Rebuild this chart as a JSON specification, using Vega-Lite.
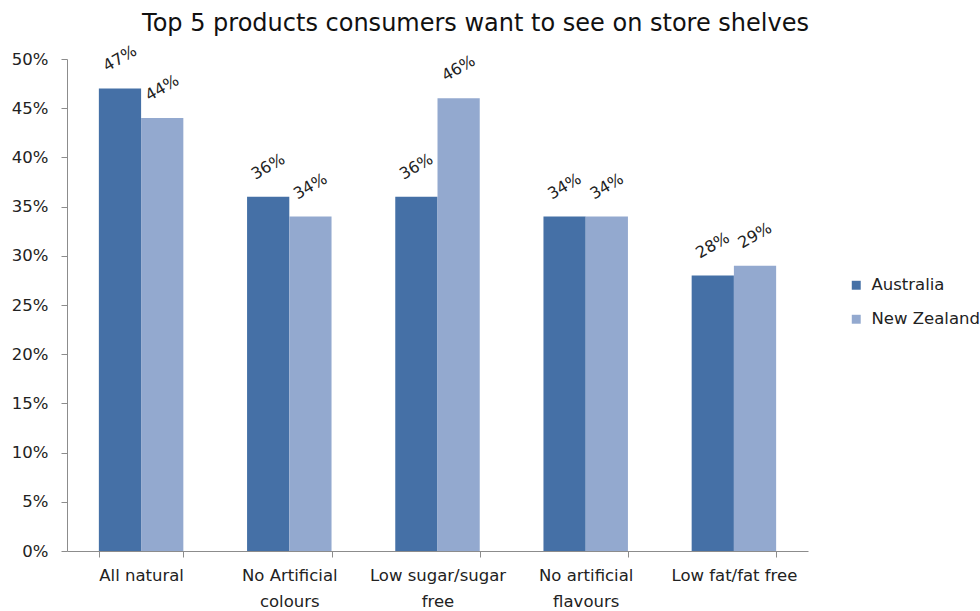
{
  "$schema": "https://vega.github.io/schema/vega-lite/v6.json",
  "width": 741,
  "height": 492,
  "autosize": {"type": "none"},
  "padding": {"left": 67, "top": 59, "right": 172, "bottom": 60},
  "background": "white",
  "config": {
    "font": "DejaVu Sans",
    "view": {"stroke": null}
  },
  "title": {
    "text": "Top 5 products consumers want to see on store shelves",
    "fontSize": 24,
    "fontWeight": "normal",
    "font": "DejaVu Sans",
    "color": "#111111",
    "anchor": "middle",
    "dx": 38,
    "offset": 7
  },
  "data": {
    "values": [
      {"product": "All natural", "country": "Australia", "share": 0.47},
      {"product": "All natural", "country": "New Zealand", "share": 0.44},
      {"product": "No Artificial colours", "country": "Australia", "share": 0.36},
      {"product": "No Artificial colours", "country": "New Zealand", "share": 0.34},
      {"product": "Low sugar/sugar free", "country": "Australia", "share": 0.36},
      {"product": "Low sugar/sugar free", "country": "New Zealand", "share": 0.46},
      {"product": "No artificial flavours", "country": "Australia", "share": 0.34},
      {"product": "No artificial flavours", "country": "New Zealand", "share": 0.34},
      {"product": "Low fat/fat free", "country": "Australia", "share": 0.28},
      {"product": "Low fat/fat free", "country": "New Zealand", "share": 0.29}
    ]
  },
  "encoding": {
    "x": {
      "field": "product",
      "type": "nominal",
      "sort": null,
      "title": null,
      "scale": {"paddingInner": 0.43, "paddingOuter": 0.215},
      "axis": {
        "labelAngle": 0,
        "grid": false,
        "labelFont": "DejaVu Sans",
        "labelFontSize": 16.5,
        "labelColor": "#222222",
        "domainColor": "#8c8c8c",
        "tickColor": "#8c8c8c",
        "tickBand": "extent",
        "tickSize": 6,
        "labelPadding": 10,
        "labelLineHeight": 26,
        "labelExpr": "datum.label == 'No Artificial colours' ? ['No Artificial', 'colours'] : datum.label == 'Low sugar/sugar free' ? ['Low sugar/sugar', 'free'] : datum.label == 'No artificial flavours' ? ['No artificial', 'flavours'] : datum.label"
      }
    },
    "xOffset": {"field": "country", "type": "nominal"},
    "y": {
      "field": "share",
      "type": "quantitative",
      "title": null,
      "scale": {"domain": [0, 0.5]},
      "axis": {
        "format": ".0%",
        "grid": false,
        "labelFont": "DejaVu Sans",
        "labelFontSize": 16.5,
        "labelColor": "#222222",
        "domainColor": "#8c8c8c",
        "tickColor": "#8c8c8c",
        "values": [0, 0.05, 0.1, 0.15, 0.2, 0.25, 0.3, 0.35, 0.4, 0.45, 0.5],
        "tickSize": 6,
        "labelPadding": 13
      }
    },
    "color": {
      "field": "country",
      "type": "nominal",
      "scale": {"domain": ["Australia", "New Zealand"], "range": ["#4570a6", "#93a9cf"]},
      "legend": {
        "title": null,
        "orient": "none",
        "legendX": 781,
        "legendY": 218,
        "symbolType": "square",
        "symbolSize": 80,
        "symbolStrokeWidth": 0,
        "labelFont": "DejaVu Sans",
        "labelFontSize": 16.5,
        "labelColor": "#222222",
        "rowPadding": 17,
        "labelOffset": 7
      }
    }
  },
  "layer": [
    {"mark": {"type": "bar"}},
    {
      "mark": {"type": "text", "angle": -30, "align": "center", "baseline": "middle", "dx": 15, "dy": -26, "fontSize": 16, "color": "#222222"},
      "encoding": {"text": {"field": "share", "type": "quantitative", "format": ".0%"}, "color": {"value": "#222222"}}
    }
  ]
}
